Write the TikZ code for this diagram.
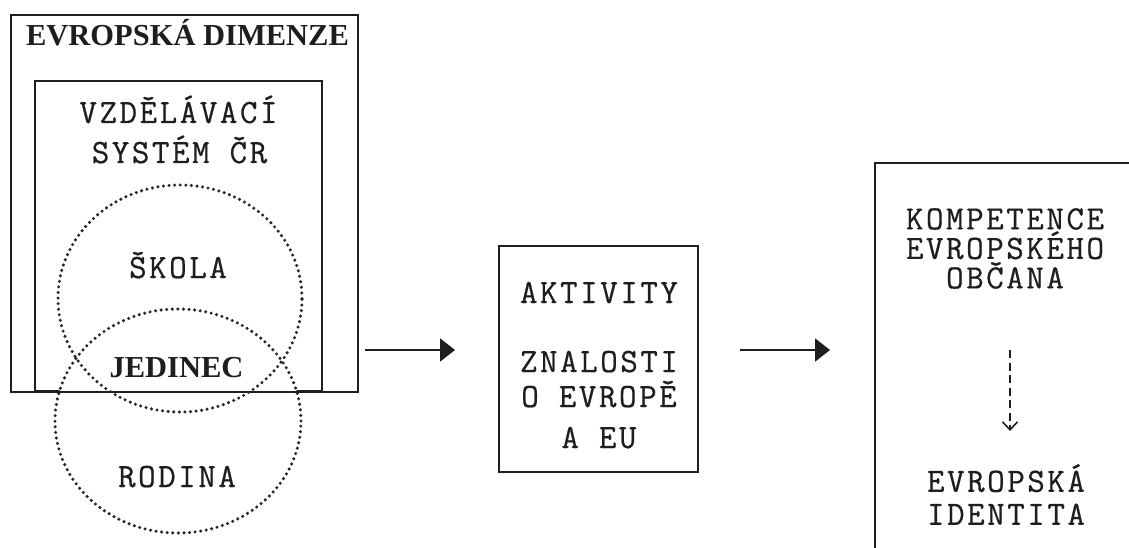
\documentclass[tikz,border=0pt]{standalone}
\usepackage{fontspec}
\setmainfont{Liberation Serif}
\newfontfamily\monofont{Latin Modern Mono}[LetterSpace=7.5,FakeBold=0.6]
\usetikzlibrary{shapes.geometric,arrows.meta}
\definecolor{ink}{HTML}{1E1E1E}
\definecolor{dotink}{HTML}{262626}
\tikzset{
  frame/.style={draw=ink, line width=1.8pt, fill=none},
  txt/.style={anchor=base, inner sep=0pt, text=ink, text height=20pt, text depth=0pt,
    font=\monofont\fontsize{34}{34}\selectfont},
  blocktxt/.style={anchor=south, inner sep=0pt, text=ink, align=center},
  boldtxt/.style={anchor=base, inner sep=0pt, text=ink, text height=20pt, text depth=0pt,
    font=\bfseries\fontsize{30.5}{30.5}\selectfont},
  dotring/.style={ellipse, draw=dotink, line width=3.4pt, line cap=round,
    dash pattern=on 0pt off 5.6pt, inner sep=0pt},
  flow/.style={draw=ink, line width=2pt, -{Triangle[length=15pt,width=23pt]}},
  lead/.style={draw=ink, line width=1.8pt, dash pattern=on 8pt off 4.5pt,
    -{Straight Barb[length=8pt,width=15pt,line width=1.6pt]}}
}
\begin{document}
\begin{tikzpicture}[x=1pt,y=-1pt]
\useasboundingbox (0,0) rectangle (1129,548);

% inner frame: education system
\path[frame] (35,81) rectangle (322,390.5);
% white disc of the family circle hides the inner frame's base
\node[ellipse, fill=white, minimum width=246, minimum height=224, inner sep=0pt] (rodinafill) at (178,421) {};
% outer frame: European dimension
\path[frame] (11,15) rectangle (358,392);

% overlapping circles
\node[dotring, minimum width=244, minimum height=227] (skola) at (180,298.5) {};
\node[dotring, minimum width=246, minimum height=224] (rodina) at (178,421) {};

% texts of the left block
\node[boldtxt] (dimenze) at (187.5,46) {EVROPSKÁ DIMENZE};
\node[txt] (vzdel1) at (178.5,123) {VZDĚLÁVACÍ};
\node[txt] (vzdel2) at (179.5,163) {SYSTÉM ČR};
\node[txt] (skolat) at (178,278) {ŠKOLA};
\node[boldtxt] (jedinec) at (176.5,377) {JEDINEC};
\node[txt] (rodinat) at (177,487) {RODINA};

% middle box
\path[frame] (499,246) rectangle (698,472);
\node[txt] (aktivity) at (599,303) {AKTIVITY};
\node[txt] (znal1) at (599,372) {ZNALOSTI};
\node[txt] (znal2) at (599,407) {O EVROPĚ};
\node[txt] (znal3) at (599,448) {A EU};

% right box, open towards the page edge
\path[frame] (1129,163) -- (875,163) -- (875,548);
\node[blocktxt, font=\monofont\fontsize{34}{29.5}\selectfont] (komp) at (1005,289)
  {KOMPETENCE\\EVROPSKÉHO\\OBČANA};
\node[blocktxt, font=\monofont\fontsize{34}{33}\selectfont] (ident) at (1006,525)
  {EVROPSKÁ\\IDENTITA};

% connectors
\coordinate (f1a) at (365,350);
\coordinate (f1b) at (455,350);
\coordinate (f2a) at (740,350);
\coordinate (f2b) at (830,350);
\draw[flow] (f1a) -- (f1b);
\draw[flow] (f2a) -- (f2b);
\coordinate (d1a) at (1010,350);
\coordinate (d1b) at (1010,431);
\draw[lead] (d1a) -- (d1b);
\end{tikzpicture}
\end{document}
